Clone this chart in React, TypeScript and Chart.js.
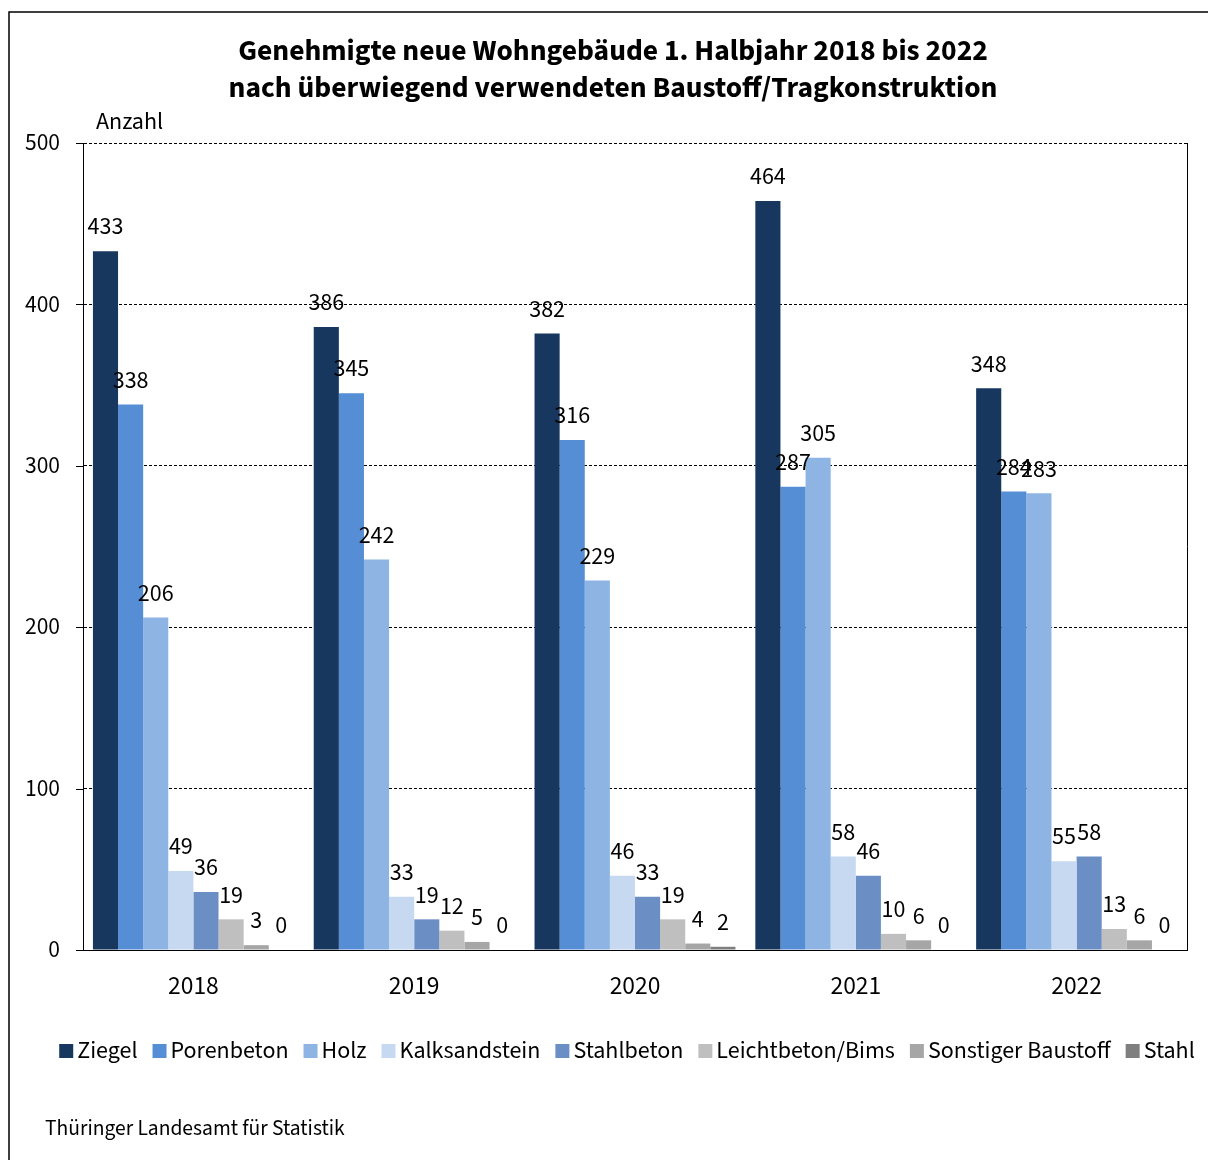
import React, { useEffect, useRef } from 'react';
import { Chart, registerables } from 'chart.js';

Chart.register(...registerables);

const years = ['2018', '2019', '2020', '2021', '2022'];
const ziegel = [433, 386, 382, 464, 348];
const porenbeton = [338, 345, 316, 287, 284];
const holz = [206, 242, 229, 305, 283];
const kalksandstein = [49, 33, 46, 58, 55];
const stahlbeton = [36, 19, 33, 46, 58];
const leichtbeton = [19, 12, 19, 10, 13];
const sonstiger = [3, 5, 4, 6, 6];
const stahl = [0, 0, 2, 0, 0];

const seriesNames = ['Ziegel', 'Porenbeton', 'Holz', 'Kalksandstein', 'Stahlbeton', 'Leichtbeton/Bims', 'Sonstiger Baustoff', 'Stahl'];
const seriesValues = [ziegel, porenbeton, holz, kalksandstein, stahlbeton, leichtbeton, sonstiger, stahl];
const seriesColors = ['#17375e', '#558ed5', '#8eb4e3', '#c6d9f1', '#6b8fc5', '#bfbfbf', '#a6a6a6', '#7f7f7f'];

const titleLines = ['Genehmigte neue Wohngebäude 1. Halbjahr 2018 bis 2022', 'nach überwiegend verwendeten Baustoff/Tragkonstruktion'];
const yAxisTitle = 'Anzahl';
const sourceText = 'Thüringer Landesamt für Statistik';
const yMin = 0;
const yMax = 500;
const yStep = 100;

const FONT = '"Source Sans Pro", "Source Sans 3", "Noto Sans", sans-serif';

const valueLabelPlugin = {
  id: 'valueLabels',
  afterDatasetsDraw(chart: any) {
    const ctx = chart.ctx;
    ctx.save();
    ctx.font = `24px ${FONT}`;
    ctx.fillStyle = '#000';
    ctx.textAlign = 'center';
    ctx.textBaseline = 'middle';
    chart.data.datasets.forEach((ds: any, di: number) => {
      const meta = chart.getDatasetMeta(di);
      meta.data.forEach((bar: any, i: number) => {
        ctx.fillText(String(ds.data[i]), bar.x, bar.y - 22);
      });
    });
    ctx.restore();
  },
};

const framePlugin = {
  id: 'frame',
  afterDraw(chart: any) {
    const ctx = chart.ctx;
    const { left, right, top, bottom } = chart.chartArea;
    const y = chart.scales.y;
    ctx.save();
    // outer frame
    ctx.strokeStyle = '#000';
    ctx.lineWidth = 1.5;
    ctx.beginPath();
    ctx.moveTo(9, 1160);
    ctx.lineTo(9, 12);
    ctx.lineTo(1208, 12);
    ctx.stroke();
    // right plot border and y tick marks
    ctx.lineWidth = 1;
    ctx.beginPath();
    ctx.moveTo(Math.round(right) + 0.5, top);
    ctx.lineTo(Math.round(right) + 0.5, bottom);
    for (let v = yMin; v <= yMax; v += yStep) {
      const py = Math.round(y.getPixelForValue(v)) + 0.5;
      ctx.moveTo(left - 7, py);
      ctx.lineTo(left, py);
    }
    ctx.stroke();
    ctx.fillStyle = '#000';
    ctx.textBaseline = 'middle';
    // title
    ctx.textAlign = 'center';
    ctx.font = `bold 29.5px ${FONT}`;
    titleLines.forEach((line, i) => ctx.fillText(line, 613, 54 + i * 37));
    // axis title and source
    ctx.textAlign = 'left';
    ctx.font = `24px ${FONT}`;
    ctx.fillText(yAxisTitle, 96, 124);
    ctx.font = `21.5px ${FONT}`;
    ctx.fillText(sourceText, 45, 1130);
    // legend
    ctx.font = `24px ${FONT}`;
    const box = 14;
    const boxGap = 4;
    const itemGap = 15;
    const items = chart.data.datasets.map((ds: any) => ({ text: ds.label, color: ds.backgroundColor, w: ctx.measureText(ds.label).width }));
    const total = items.reduce((s: number, it: any) => s + box + boxGap + it.w, 0) + itemGap * (items.length - 1);
    let x = 627 - total / 2;
    const ly = 1051;
    items.forEach((it: any) => {
      ctx.fillStyle = it.color;
      ctx.fillRect(x, ly - box / 2, box, box);
      ctx.fillStyle = '#000';
      ctx.fillText(it.text, x + box + boxGap, ly + 2);
      x += box + boxGap + it.w + itemGap;
    });
    ctx.restore();
  },
};

export default function App() {
  const ref = useRef<HTMLCanvasElement>(null);
  useEffect(() => {
    if (!ref.current) return;
    const chart = new Chart(ref.current, {
      type: 'bar',
      data: {
        labels: years,
        datasets: seriesNames.map((name, i) => ({
          label: name,
          data: seriesValues[i],
          backgroundColor: seriesColors[i],
          borderWidth: 0,
          categoryPercentage: 0.91,
          barPercentage: 1.0,
        })),
      },
      options: {
        responsive: false,
        animation: false,
        devicePixelRatio: 1,
        layout: { padding: { left: 0, right: 21, top: 143, bottom: 150 } },
        plugins: {
          title: { display: false },
          legend: { display: false },
          tooltip: { enabled: false },
        },
        scales: {
          x: {
            grid: { display: false, drawTicks: false },
            border: { display: true, color: '#000', width: 1 },
            ticks: { color: '#000', font: { family: FONT, size: 25.5 }, padding: 23 },
            afterFit(scale: any) { scale.height = 60; },
          },
          y: {
            min: yMin,
            max: yMax,
            ticks: { stepSize: yStep, color: '#000', font: { family: FONT, size: 23.5 }, padding: 23, labelOffset: 2 },
            grid: { color: '#000', lineWidth: 1, drawTicks: false },
            border: { display: true, color: '#000', width: 1, dash: [3, 2] },
            afterFit(scale: any) { scale.width = 83; },
          },
        },
      },
      plugins: [valueLabelPlugin, framePlugin],
    });
    return () => chart.destroy();
  }, []);
  return (
    <div style={{ position: 'absolute', left: 0, top: 0, width: 1208, height: 1160, background: '#fff' }}>
      <canvas ref={ref} width={1208} height={1160} style={{ display: 'block' }} />
    </div>
  );
}
